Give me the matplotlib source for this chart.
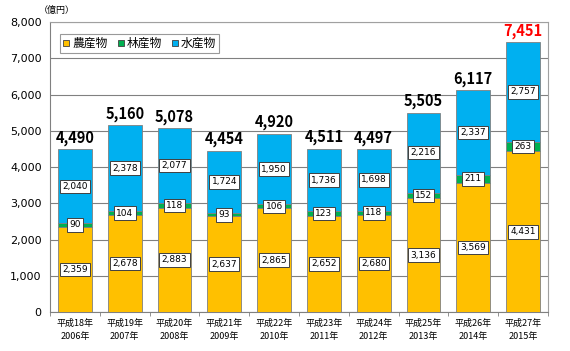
import numpy as np
import matplotlib.pyplot as plt
from matplotlib.lines import Line2D

plt.rcParams['font.family'] = ['Noto Sans CJK JP', 'DejaVu Sans']

years = ['平成18年\n2006年', '平成19年\n2007年', '平成20年\n2008年', '平成21年\n2009年',
         '平成22年\n2010年', '平成23年\n2011年', '平成24年\n2012年', '平成25年\n2013年',
         '平成26年\n2014年', '平成27年\n2015年']
agri = [2359, 2678, 2883, 2637, 2865, 2652, 2680, 3136, 3569, 4431]
forest = [90, 104, 118, 93, 106, 123, 118, 152, 211, 263]
fish = [2040, 2378, 2077, 1724, 1950, 1736, 1698, 2216, 2337, 2757]
totals = [4490, 5160, 5078, 4454, 4920, 4511, 4497, 5505, 6117, 7451]
names = ['農産物', '林産物', '水産物']

c_agri = '#FFC000'
c_forest = '#00B050'
c_fish = '#00B0F0'

fig = plt.figure(figsize=(5.7, 3.51), dpi=100)
ax = fig.add_axes([0.0877, 0.111, 0.8737, 0.826])

x = np.arange(len(years))
w = 0.68
agri = np.array(agri)
forest = np.array(forest)
fish = np.array(fish)

ax.bar(x, agri, w, color=c_agri, edgecolor='#808080', linewidth=0.6, zorder=3)
ax.bar(x, forest, w, bottom=agri, color=c_forest, edgecolor='#808080', linewidth=0.6, zorder=3)
ax.bar(x, fish, w, bottom=agri + forest, color=c_fish, edgecolor='#808080', linewidth=0.6, zorder=3)

box = dict(boxstyle='square,pad=0.25', fc='white', ec='#404040', lw=0.7)
for i in range(len(x)):
    ax.text(x[i], agri[i] / 2, f'{agri[i]:,}', ha='center', va='center', fontsize=6.5,
            family='DejaVu Sans', bbox=box, zorder=5)
    ax.text(x[i], agri[i] + forest[i] / 2, f'{forest[i]:,}', ha='center', va='center', fontsize=6.5,
            family='DejaVu Sans', bbox=box, zorder=5)
    ax.text(x[i], agri[i] + forest[i] + fish[i] / 2, f'{fish[i]:,}', ha='center', va='center',
            fontsize=6.5, family='DejaVu Sans', bbox=box, zorder=5)
    col = 'red' if i == len(x) - 1 else 'black'
    ax.text(x[i], totals[i] + 90, f'{totals[i]:,}', ha='center', va='bottom', fontsize=10.5,
            fontweight='bold', color=col, zorder=5)

ax.set_xlim(-0.5, len(x) - 0.5)
ax.set_ylim(0, 8000)
ax.set_yticks(np.arange(0, 8001, 1000))
ax.set_yticklabels([f'{v:,}' for v in range(0, 8001, 1000)], family='DejaVu Sans')
ax.yaxis.grid(True, color='#808080', linewidth=0.8, zorder=0)
ax.set_xticks(x)
ax.set_xticklabels(years, fontsize=6.5, linespacing=1.5)
ax.set_xticks(np.arange(-0.5, len(x), 1), minor=True)
ax.tick_params(axis='x', which='major', length=0, pad=5)
ax.tick_params(axis='x', which='minor', length=3, color='#808080')
ax.tick_params(axis='y', length=0, labelsize=8, pad=6)

for s in ['top', 'right']:
    ax.spines[s].set_color('#A0A0A0')
for s in ['left', 'bottom']:
    ax.spines[s].set_color('#808080')

handles = [Line2D([], [], ls='none', marker='s', markersize=4.5, markerfacecolor=c,
                  markeredgecolor='#404040', markeredgewidth=0.6)
           for c in [c_agri, c_forest, c_fish]]
leg = ax.legend(handles, names, loc='upper left', ncol=3, fontsize=8.5, frameon=True, fancybox=False,
                edgecolor='#808080', handlelength=0.6, handletextpad=0.2,
                columnspacing=0.8, borderpad=0.25, borderaxespad=0,
                bbox_to_anchor=(0.02, 0.96))
leg.get_frame().set_linewidth(0.8)

fig.text(0.068, 0.97, '（億円）', fontsize=6.5, ha='left', va='center')

fig.savefig('out.png', dpi=100)
